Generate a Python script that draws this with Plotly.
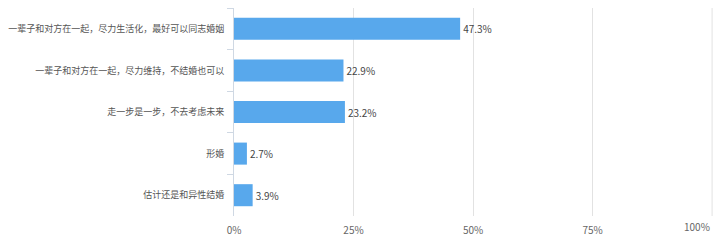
import plotly.graph_objects as go

categories = [
    "一辈子和对方在一起，尽力生活化，最好可以同志婚姻",
    "一辈子和对方在一起，尽力维持，不结婚也可以",
    "走一步是一步，不去考虑未来",
    "形婚",
    "估计还是和异性结婚",
]
values = [47.3, 22.9, 23.2, 2.7, 3.9]
labels = [f"{v:.1f}%" for v in values]
tick_vals = [0, 25, 50, 75, 100]
tick_text = ["0%", "25%", "50%", "75%", "100%"]

font_family = "Microsoft YaHei, Noto Sans CJK SC, sans-serif"

fig = go.Figure(go.Bar(
    x=values,
    y=categories,
    orientation="h",
    marker=dict(color="#58a8ec", line=dict(width=0)),
    text=labels,
    textposition="outside",
    textfont=dict(size=10, color="#444444", family=font_family),
    cliponaxis=False,
))

fig.update_layout(
    width=720, height=244,
    margin=dict(l=234, r=6, t=8, b=28, autoexpand=False),
    paper_bgcolor="white",
    plot_bgcolor="white",
    bargap=0.47,
    showlegend=False,
    font=dict(family=font_family, size=10, color="#555555"),
)
fig.update_xaxes(
    range=[0, 100.4],
    tickvals=tick_vals[:-1],
    ticktext=tick_text[:-1],
    showgrid=True,
    gridcolor="#e2e2e2",
    gridwidth=1,
    zeroline=False,
    showline=False,
    ticks="",
    ticklabelstandoff=7,
    tickfont=dict(size=10, color="#666666"),
    fixedrange=True,
    automargin=False,
)
# last tick (100%) gridline and right-aligned label, as in the reference
fig.add_vline(x=tick_vals[-1], line=dict(color="#e2e2e2", width=1), layer="below")
fig.add_annotation(
    x=tick_vals[-1], xref="x", y=0, yref="paper",
    text=tick_text[-1], showarrow=False,
    xanchor="right", yanchor="top", yshift=-1,
    font=dict(size=10, color="#666666", family=font_family),
)
fig.update_yaxes(
    autorange="reversed",
    showline=True,
    linecolor="#cfd8e3",
    linewidth=1,
    ticks="outside",
    tickson="boundaries",
    ticklen=6,
    tickcolor="#cfd8e3",
    showgrid=False,
    tickfont=dict(size=9, color="#555555"),
    ticklabelstandoff=7,
    automargin=False,
)

fig.write_html("out.html")
